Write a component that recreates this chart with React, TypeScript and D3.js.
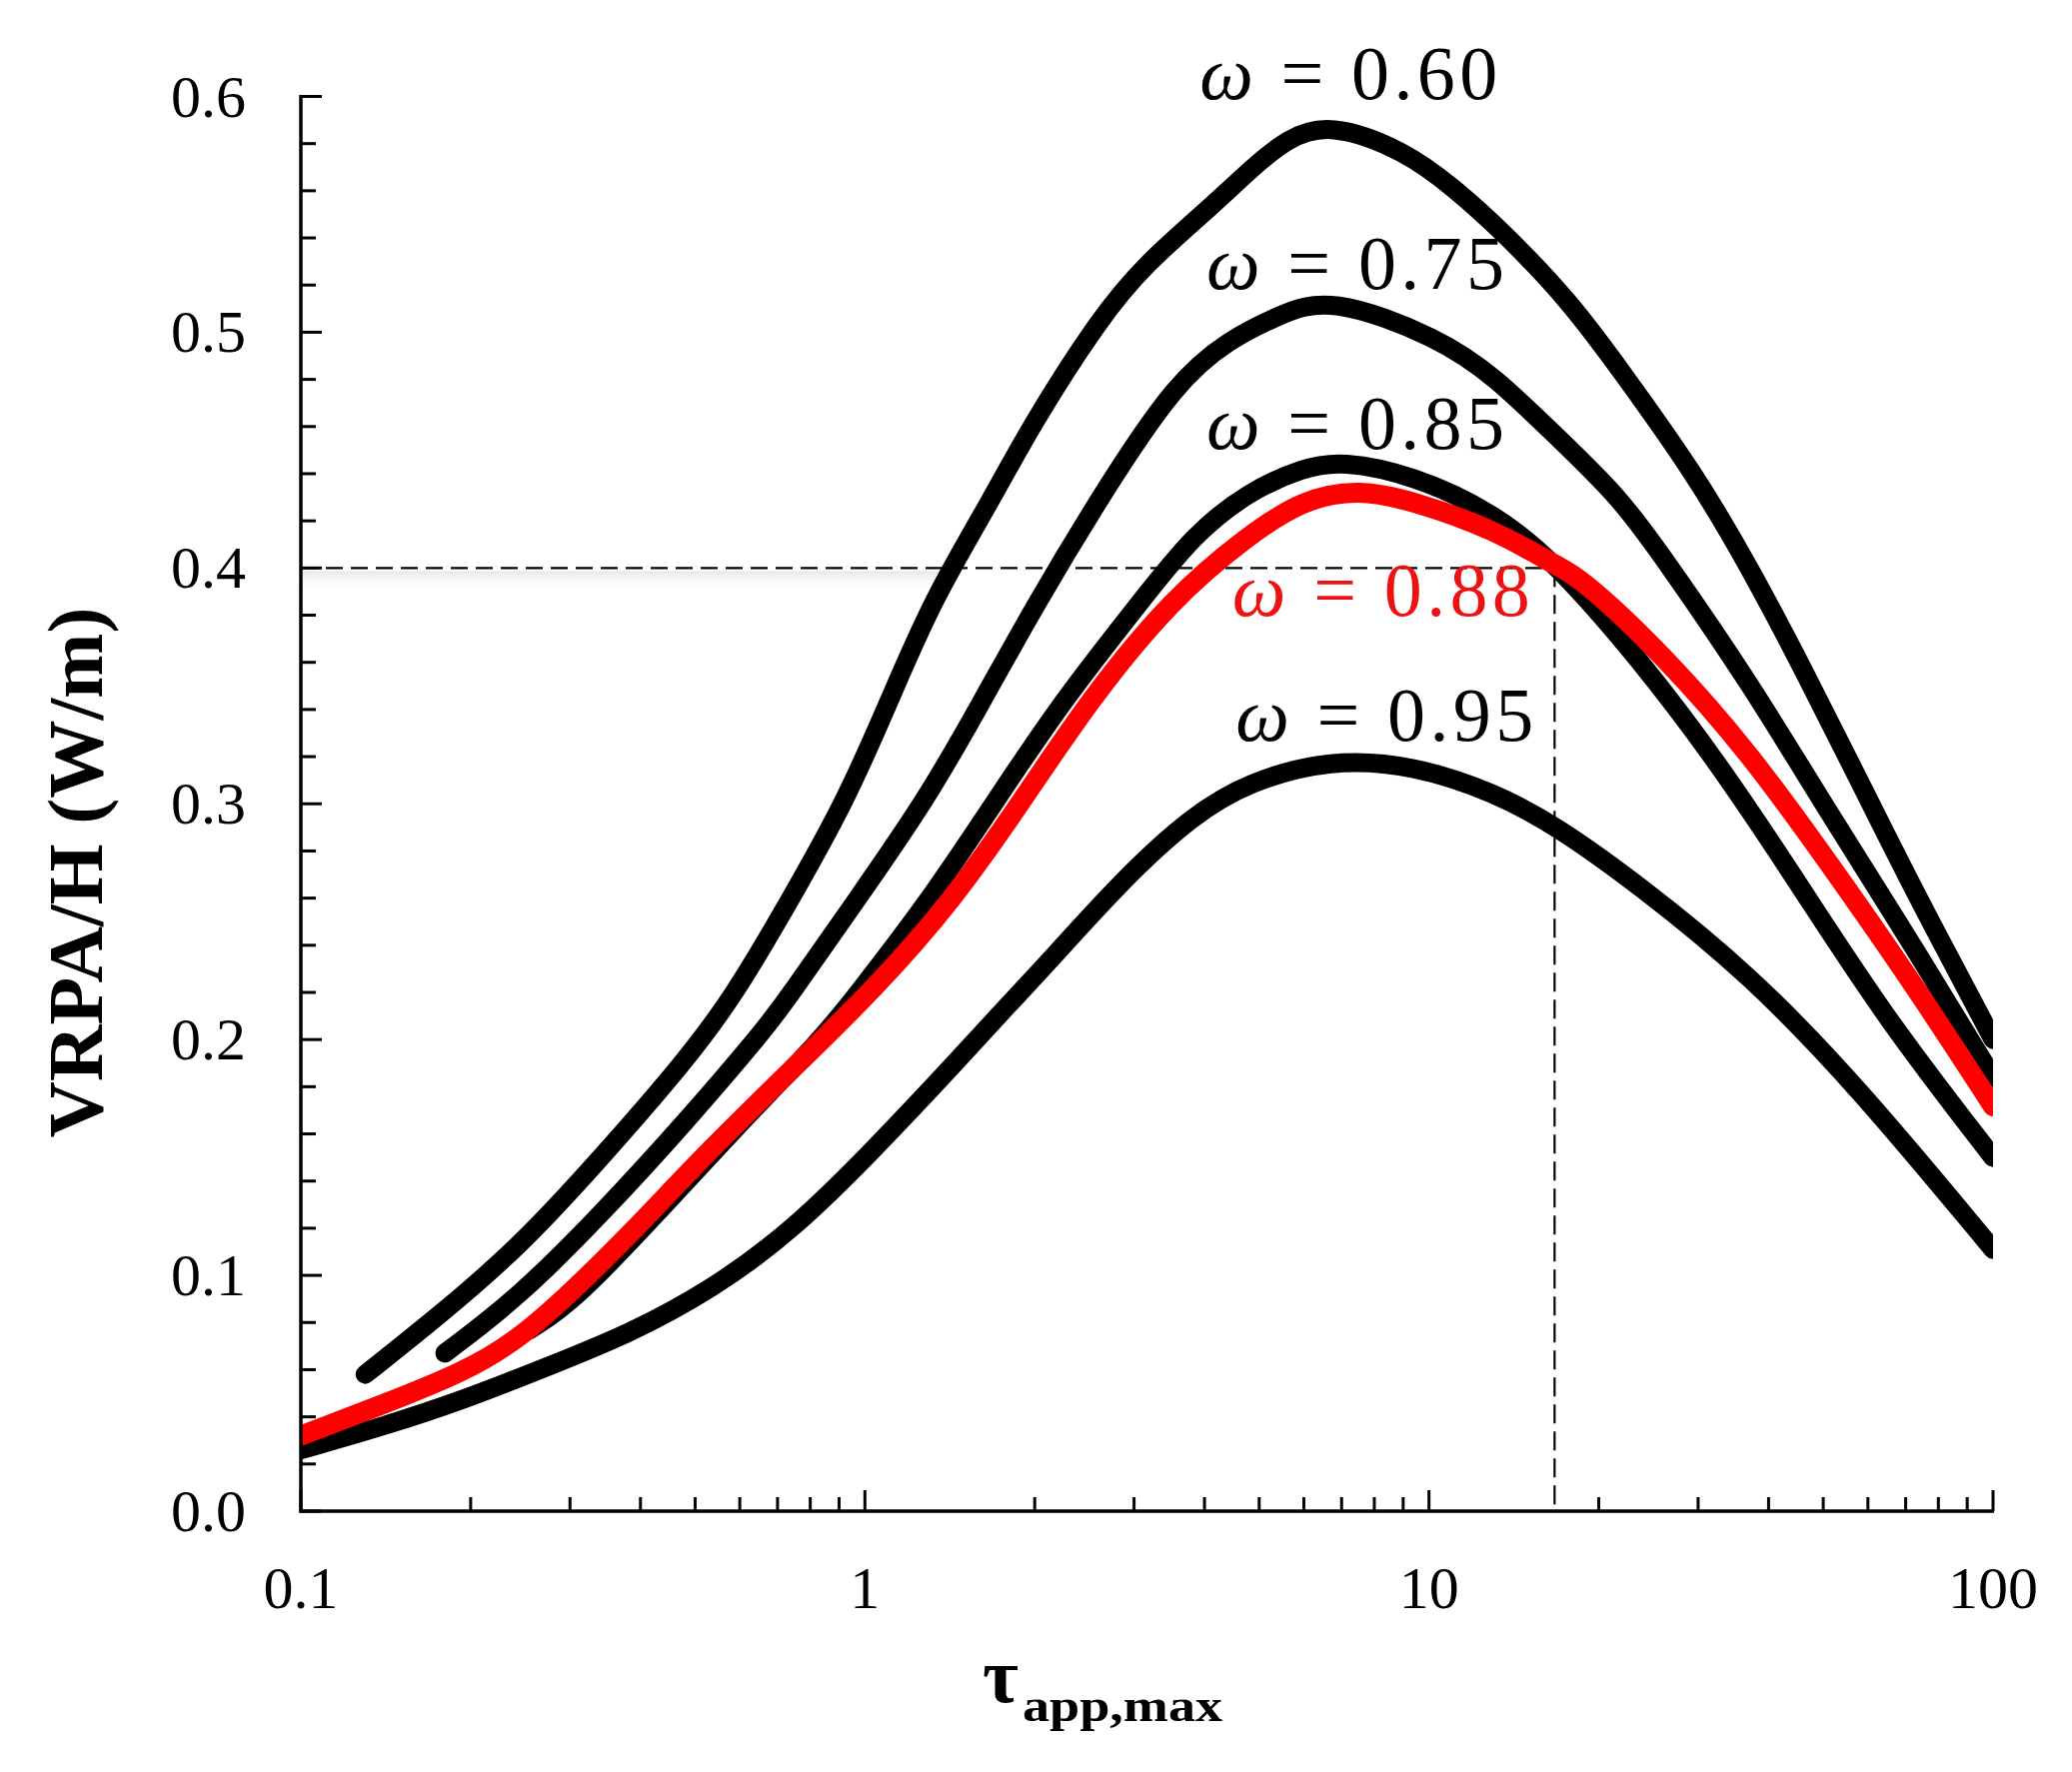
import React from 'react';
import * as d3 from 'd3';

const W = 2073;
const H = 1773;

// axis domains and ticks
const tauDomain: [number, number] = [0.1, 100];
const vDomain: [number, number] = [0, 0.6];
const yTickValues = [0, 0.1, 0.2, 0.3, 0.4, 0.5, 0.6];
const yTickLabels = ['0.0', '0.1', '0.2', '0.3', '0.4', '0.5', '0.6'];
const xTickValues = [0.1, 1, 10, 100];
const xTickLabels = ['0.1', '1', '10', '100'];

// series: [tau_app,max, VRPA/H]
const w060: [number, number][] = [
  [0.13, 0.058], [0.174, 0.082], [0.244, 0.112], [0.341, 0.150], [0.477, 0.190],
  [0.584, 0.218], [0.736, 0.259], [0.928, 0.302], [1.106, 0.344], [1.32, 0.387],
  [1.686, 0.430], [1.954, 0.459], [2.606, 0.506], [3.14, 0.529], [4.10, 0.553],
  [4.87, 0.570], [5.6, 0.582], [6.64, 0.589], [9.08, 0.577], [11.1, 0.561],
  [13.4, 0.5436], [17.8, 0.513], [22.0, 0.483], [29.4, 0.441], [36.9, 0.401],
  [46.1, 0.357], [57.6, 0.311], [72.1, 0.264], [100, 0.200],
];
const w075: [number, number][] = [
  [0.18, 0.067], [0.244, 0.091], [0.341, 0.126], [0.477, 0.164], [0.668, 0.205],
  [0.727, 0.217], [0.965, 0.259], [1.287, 0.302], [1.618, 0.344], [1.99, 0.383],
  [2.64, 0.432], [3.56, 0.479], [4.43, 0.497], [5.4, 0.507], [6.64, 0.5155],
  [10.46, 0.4975], [13.1, 0.481], [16.8, 0.456], [21.8, 0.430], [26.3, 0.403],
  [36.9, 0.352], [51.5, 0.295], [72.1, 0.240], [100, 0.184],
];
const w085: [number, number][] = [
  [0.255, 0.077], [0.305, 0.089], [0.427, 0.126], [0.597, 0.164], [0.836, 0.200],
  [0.953, 0.217], [1.302, 0.259], [1.712, 0.302], [2.244, 0.344], [3.11, 0.387],
  [3.82, 0.414], [4.79, 0.4325], [5.98, 0.4425], [7.0, 0.4455], [9.37, 0.4394],
  [13.1, 0.4232], [16.8, 0.402], [23.5, 0.362], [32.9, 0.316], [46.1, 0.263],
  [64.5, 0.209], [100, 0.150],
];
const w088: [number, number][] = [
  [0.1, 0.032], [0.139, 0.045], [0.195, 0.059], [0.244, 0.073], [0.305, 0.094],
  [0.382, 0.117], [0.534, 0.154], [0.747, 0.188], [1.035, 0.221], [1.432, 0.259],
  [1.909, 0.302], [2.5, 0.344], [3.5, 0.387], [4.79, 0.414], [5.98, 0.429],
  [7.48, 0.4335], [9.37, 0.4285], [13.1, 0.4162], [16.8, 0.401], [18.8, 0.395],
  [26.3, 0.362], [36.9, 0.322], [51.5, 0.274], [72.1, 0.224], [100, 0.1717],
];
const w095: [number, number][] = [
  [0.1, 0.026], [0.139, 0.0357], [0.195, 0.0473], [0.273, 0.0612], [0.382, 0.0752],
  [0.534, 0.0938], [0.747, 0.1193], [1.045, 0.1542], [1.463, 0.1914], [1.83, 0.217],
  [2.046, 0.229], [2.864, 0.268], [3.82, 0.2953], [4.79, 0.3093], [6.69, 0.319],
  [9.37, 0.3165], [13.1, 0.3047], [16.8, 0.2907], [23.5, 0.2658], [36.9, 0.228],
  [57.6, 0.180], [100, 0.111],
];

const seriesData = [w060, w075, w085, w095, w088];
const seriesNames = ['0.60', '0.75', '0.85', '0.95', '0.88'];
const seriesColors = ['#000000', '#000000', '#000000', '#000000', '#ff0000'];
const labelTau = [3.92, 4.03, 4.03, 4.54, 4.48];
const labelV = [0.599, 0.5186, 0.4507, 0.3266, 0.3798];

// reference point (dashed guide lines)
const refTau = 16.7;
const refV = 0.4;

const FONT = '"Liberation Serif", "Times New Roman", Times, serif';

export default function App() {
  const left = 301, right = 1994, top = 96.5, bottom = 1512;
  const x = d3.scaleLog().domain(tauDomain).range([left, right]);
  const y = d3.scaleLinear().domain(vDomain).range([bottom, top]);

  const line = d3
    .line<[number, number]>()
    .x((d) => x(d[0]))
    .y((d) => y(d[1]))
    .curve(d3.curveBasis);

  const yMinor = d3.range(0, 0.6001, 0.02).filter(
    (v) => Math.abs(v * 10 - Math.round(v * 10)) > 1e-6
  );
  const xMinor: number[] = [];
  [0.1, 1, 10].forEach((dec) => {
    for (let k = 2; k <= 9; k++) xMinor.push(dec * k);
  });

  return (
    <svg
      width={W}
      height={H}
      viewBox={`0 0 ${W} ${H}`}
      style={{ position: 'absolute', left: 0, top: 0, background: '#fff' }}
      fontFamily={FONT}
    >
      <rect x={0} y={0} width={W} height={H} fill="#fff" />
      <defs>
        <clipPath id="plotClip">
          <rect x={left} y={0} width={right - left} height={H} />
        </clipPath>
        <linearGradient id="shadow" x1="0" y1="0" x2="0" y2="1">
          <stop offset="0" stopColor="#e6e6e6" stopOpacity="0.9" />
          <stop offset="1" stopColor="#ffffff" stopOpacity="0" />
        </linearGradient>
      </defs>

      {/* faint shadow under the horizontal guide */}
      <rect x={left + 2} y={y(refV) + 3} width={x(1.4) - left} height={22} fill="url(#shadow)" />

      {/* dashed guide lines */}
      <line
        x1={left}
        x2={x(refTau)}
        y1={y(refV)}
        y2={y(refV)}
        stroke="#000"
        strokeWidth={2.2}
        strokeDasharray="17,8"
      />
      <line
        x1={x(refTau)}
        x2={x(refTau)}
        y1={y(refV)}
        y2={bottom}
        stroke="#000"
        strokeWidth={2.2}
        strokeDasharray="19,8"
      />

      {/* curves */}
      <g clipPath="url(#plotClip)">
        {seriesData.map((d, i) => (
          <path
            key={i}
            d={line(d) || ''}
            fill="none"
            stroke={seriesColors[i]}
            strokeWidth={i === 4 ? 20 : 19}
            strokeLinecap="round"
            strokeLinejoin="round"
          />
        ))}
      </g>

      {/* series labels */}
      {seriesNames.map((n, i) => (
        <text
          key={n}
          x={x(labelTau[i])}
          y={y(labelV[i])}
          fontSize={76}
          fill={seriesColors[i] === '#000000' ? '#000' : '#ee1111'}
          textLength={298}
          lengthAdjust="spacing"
        >
          <tspan fontStyle="italic">ω</tspan>
          {' = ' + n}
        </text>
      ))}

      {/* axes */}
      <line x1={left} x2={left} y1={top - 1.5} y2={bottom + 1.5} stroke="#000" strokeWidth={3.5} />
      <line x1={left - 1.5} x2={right + 1} y1={bottom} y2={bottom} stroke="#000" strokeWidth={3.5} />

      {/* y ticks */}
      {yTickValues.map((v) => (
        <line key={'ym' + v} x1={left} x2={left + 21} y1={y(v)} y2={y(v)} stroke="#000" strokeWidth={3} />
      ))}
      {yMinor.map((v) => (
        <line key={'yn' + v} x1={left} x2={left + 15} y1={y(v)} y2={y(v)} stroke="#000" strokeWidth={3} />
      ))}
      {yTickValues.map((v, i) => (
        <text key={'yl' + v} x={246} y={y(v) + 20} fontSize={60} textAnchor="end" fill="#000">
          {yTickLabels[i]}
        </text>
      ))}

      {/* x ticks */}
      {xTickValues.map((t) => (
        <line key={'xm' + t} x1={x(t)} x2={x(t)} y1={bottom} y2={bottom - 21} stroke="#000" strokeWidth={3} />
      ))}
      {xMinor.map((t) => (
        <line key={'xn' + t} x1={x(t)} x2={x(t)} y1={bottom} y2={bottom - 14} stroke="#000" strokeWidth={3} />
      ))}
      {xTickValues.map((t, i) => (
        <text key={'xl' + t} x={x(t)} y={1609} fontSize={60} textAnchor="middle" fill="#000">
          {xTickLabels[i]}
        </text>
      ))}

      {/* axis titles */}
      <text
        transform="translate(102,873) rotate(-90)"
        textAnchor="middle"
        fontSize={78}
        fontWeight="bold"
        fill="#000"
        textLength={531}
        lengthAdjust="spacingAndGlyphs"
      >
        VRPA/H (W/m)
      </text>
      <text x={983} y={1703} fontSize={78} fontWeight="bold" fill="#000">
        τ
      </text>
      <text
        x={1023}
        y={1722}
        fontSize={46}
        fontWeight="bold"
        fill="#000"
        textLength={200}
        lengthAdjust="spacingAndGlyphs"
      >
        app,max
      </text>
    </svg>
  );
}
